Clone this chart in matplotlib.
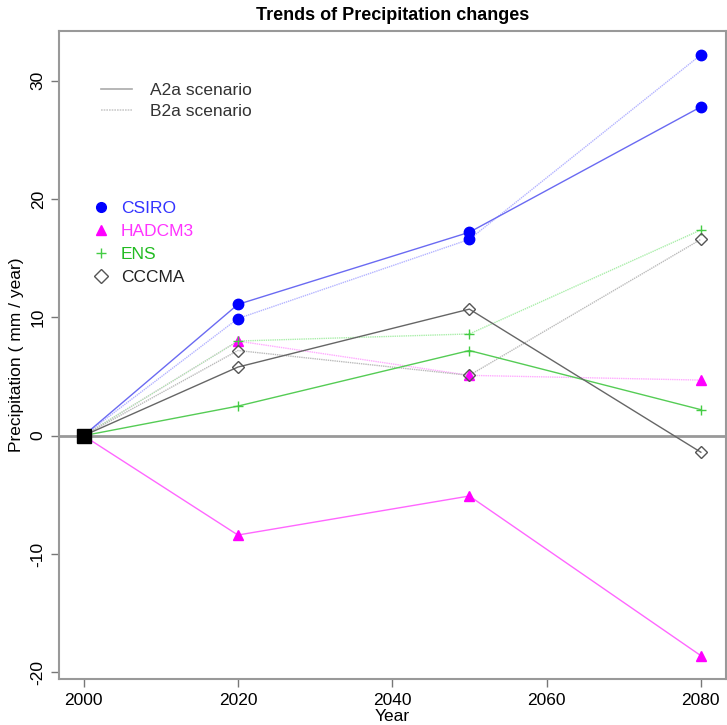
import matplotlib
matplotlib.use("Agg")
import matplotlib.pyplot as plt
from matplotlib.lines import Line2D

plt.rcParams["font.family"] = ["Liberation Sans", "DejaVu Sans"]
plt.rcParams["axes.unicode_minus"] = False

years = [2000, 2020, 2050, 2080]
models = ["CSIRO", "HADCM3", "ENS", "CCCMA"]

csiro_a2 = [0, 11.1, 17.2, 27.8]
csiro_b2 = [0, 9.9, 16.6, 32.2]
hadcm3_a2 = [0, -8.4, -5.1, -18.6]
hadcm3_b2 = [0, 8.0, 5.1, 4.7]
ens_a2 = [0, 2.5, 7.2, 2.2]
ens_b2 = [0, 8.0, 8.6, 17.4]
cccma_a2 = [0, 5.8, 10.7, -1.4]
cccma_b2 = [0, 7.2, 5.1, 16.6]

a2_data = [csiro_a2, hadcm3_a2, ens_a2, cccma_a2]
b2_data = [csiro_b2, hadcm3_b2, ens_b2, cccma_b2]

# style per model: marker, marker colour, A2a line, B2a line, text colour
markers = ["o", "^", "+", "D"]
mcolors = ["#0000ff", "#ff00ff", "#44cc44", "#555555"]
a2_line = ["#6a6af2", "#ff66ff", "#55cc55", "#666666"]
b2_line = ["#b4b4ff", "#ffaaff", "#aaeeaa", "#bbbbbb"]
tcolors = ["#3333ff", "#ff33ff", "#22bb22", "#222222"]

fig = plt.figure(figsize=(7.27, 7.25), dpi=100)
ax = fig.add_axes([0.081, 0.063, 0.917, 0.894])

ax.axhline(0, color="#999999", lw=2, zorder=1)

for i in range(len(models)):
    fill = "none" if markers[i] == "D" else mcolors[i]
    ms = 6.5 if markers[i] == "D" else 7.5
    ax.plot(years, b2_data[i], color=b2_line[i], lw=1, ls=(0, (1, 0.6)), zorder=2)
    ax.plot(years, a2_data[i], color=a2_line[i], lw=1, zorder=3)
    ax.plot(years[1:], b2_data[i][1:], ls="none", marker=markers[i], ms=ms,
            mfc=fill, mec=mcolors[i], mew=1, zorder=4)
    ax.plot(years[1:], a2_data[i][1:], ls="none", marker=markers[i], ms=ms,
            mfc=fill, mec=mcolors[i], mew=1, zorder=4)

ax.plot([years[0]], [0], marker="s", ms=10, color="black", ls="none", zorder=5)

ax.set_xlim(1996.8, 2083.2)
ax.set_ylim(-20.6, 34.2)
ax.set_xticks([2000, 2020, 2040, 2060, 2080])
ax.set_yticks([-20, -10, 0, 10, 20, 30])
for lab in ax.get_yticklabels():
    lab.set_rotation(90)
    lab.set_va("center")
ax.tick_params(direction="out", length=6, width=1, color="#777777", labelsize=12.5)
for sp in ax.spines.values():
    sp.set_color("#999999")
    sp.set_linewidth(1.5)

ax.set_title("Trends of Precipitation changes", fontsize=13, fontweight="bold", pad=8)
ax.set_xlabel("Year", fontsize=12.5, labelpad=1)
ax.set_ylabel("Precipitation ( mm / year)", fontsize=12.5, labelpad=5)

scen_handles = [Line2D([], [], color="#aaaaaa", lw=1.2),
                Line2D([], [], color="#cccccc", lw=1.2, ls=(0, (1, 0.6)))]
leg1 = ax.legend(scen_handles, ["A2a scenario", "B2a scenario"], loc="upper left",
                 bbox_to_anchor=(0.04, 0.945), frameon=False, fontsize=12.5,
                 handlelength=1.8, handletextpad=1.0, labelspacing=0.35)
for t in leg1.get_texts():
    t.set_color("#333333")
ax.add_artist(leg1)

mod_handles = []
for i in range(len(models)):
    fill = "none" if markers[i] == "D" else mcolors[i]
    mod_handles.append(Line2D([], [], ls="none", marker=markers[i], ms=7,
                              mfc=fill, mec=mcolors[i]))
leg2 = ax.legend(mod_handles, models, loc="upper left", bbox_to_anchor=(0.02, 0.762),
                 frameon=False, fontsize=12.5, handlelength=1.5, handletextpad=0.4,
                 labelspacing=0.45)
for t, c in zip(leg2.get_texts(), tcolors):
    t.set_color(c)

fig.savefig("out.png", dpi=100)
